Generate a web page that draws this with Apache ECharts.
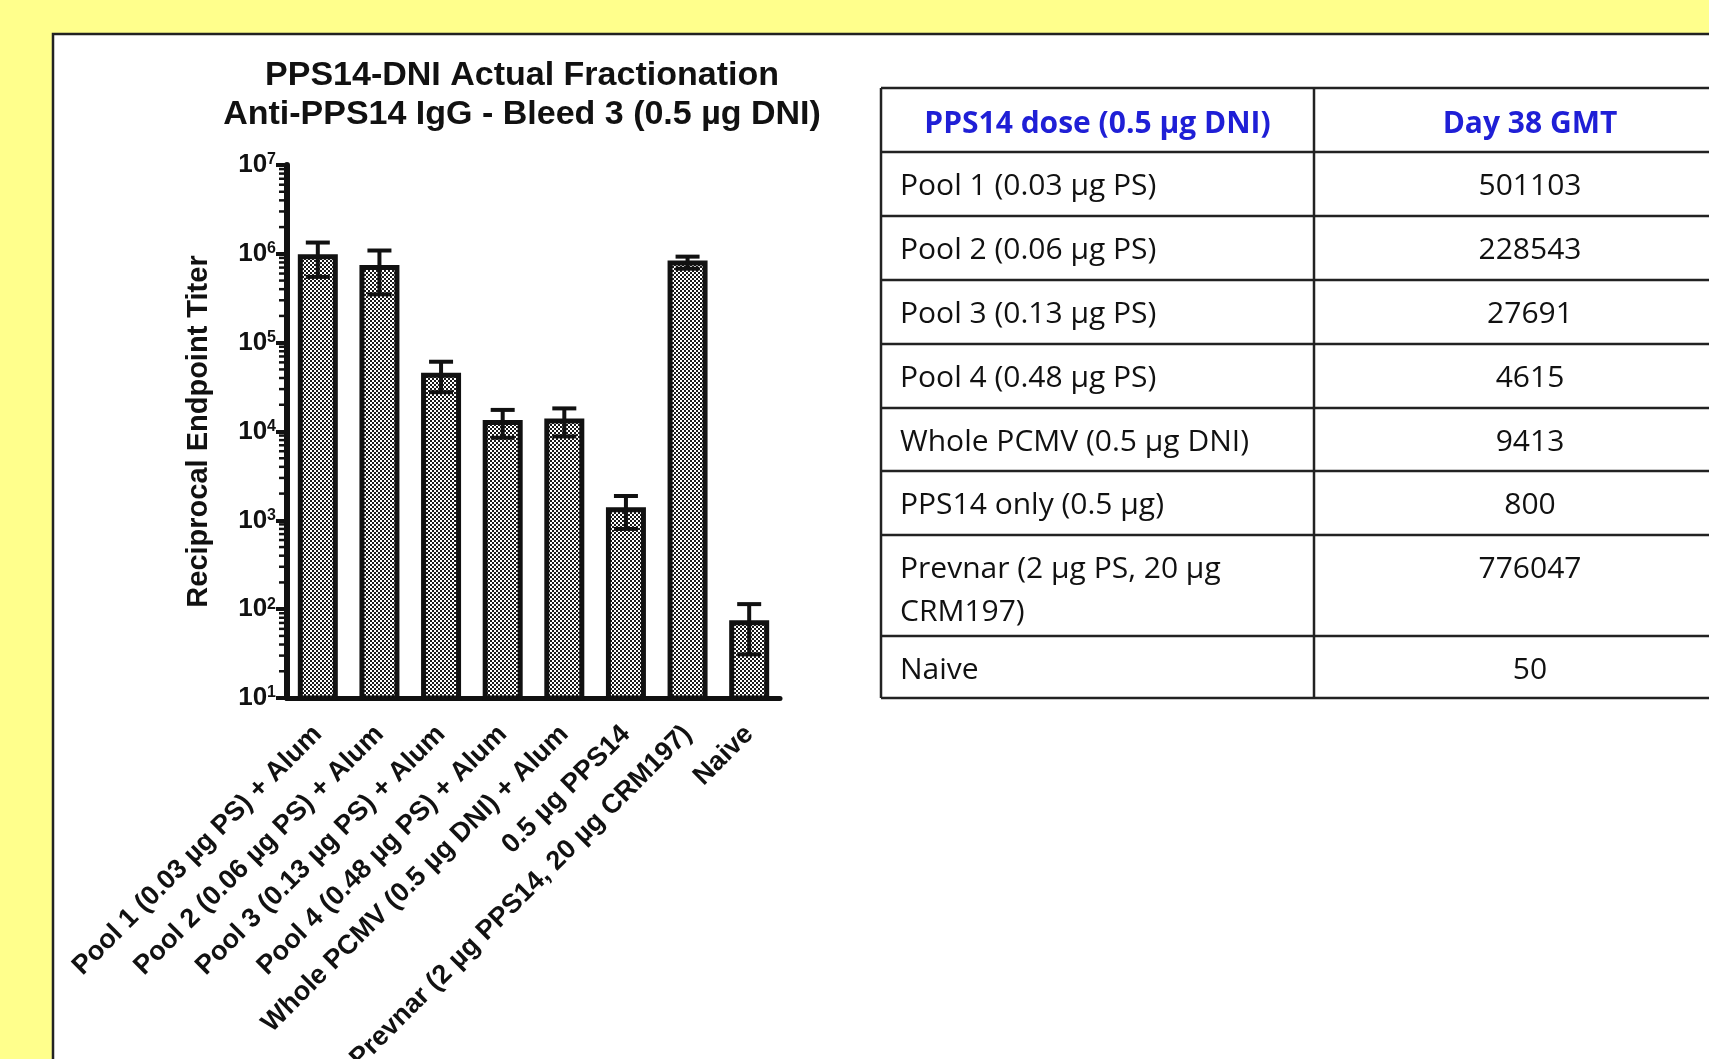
<!DOCTYPE html>
<html>
<head>
<meta charset="utf-8">
<script src="https://cdn.jsdelivr.net/npm/echarts@6/dist/echarts.min.js"></script>
<style>
  html, body { margin: 0; padding: 0; background: #ffff8c; }
  #chart { width: 1709px; height: 1059px; }
</style>
</head>
<body>
<div id="chart"></div>
<script>
// groups on the x axis
const groups = [
  'Pool 1 (0.03 µg PS) + Alum',
  'Pool 2 (0.06 µg PS) + Alum',
  'Pool 3 (0.13 µg PS) + Alum',
  'Pool 4 (0.48 µg PS) + Alum',
  'Whole PCMV (0.5 µg DNI) + Alum',
  '0.5 µg PPS14',
  'Prevnar (2 µg PPS14, 20 µg CRM197)',
  'Naive'
]
// titers
const titers = [990000, 750000, 46000, 13500, 14000, 1400, 840000, 75]
const errLow = [550000, 350000, 27700, 8500, 8800, 800, 680000, 31]
const errHigh = [1340000, 1090000, 61000, 17500, 18200, 1880, 930000, 114]

// log axis minor ticks (2..9 per decade)
const decades = [10, 100, 1000, 10000, 100000, 1000000]
const minorSteps = [2, 3, 4, 5, 6, 7, 8, 9]

// table on the right
const tableHeader = ['PPS14 dose (0.5 µg DNI)', 'Day 38 GMT']
const tableGroups = [
  'Pool 1 (0.03 µg PS)',
  'Pool 2 (0.06 µg PS)',
  'Pool 3 (0.13 µg PS)',
  'Pool 4 (0.48 µg PS)',
  'Whole PCMV (0.5 µg DNI)',
  'PPS14 only (0.5 µg)',
  'Prevnar (2 µg PS, 20 µg\nCRM197)',
  'Naive'
]
const tableGmt = ['501103', '228543', '27691', '4615', '9413', '800', '776047', '50']

const chart = echarts.init(document.getElementById('chart'))

// checker fill like the prism bars
const pat = document.createElement('canvas')
pat.width = 4
pat.height = 4
const pctx = pat.getContext('2d')
pctx.fillStyle = '#1a1a1a'
pctx.fillRect(0, 0, 4, 4)
pctx.fillStyle = '#fff'
pctx.fillRect(0, 0, 2, 2)
pctx.fillRect(2, 2, 2, 2)

const minorTicks = []
decades.forEach(d => minorSteps.forEach(m => minorTicks.push([0, d * m])))

const errData = groups.map((g, i) => [i, errLow[i], errHigh[i]])

// table layout
const tLeft = 881, tMid = 1314, tRight = 1760
const rowHeights = [64, 64, 64, 64, 64, 63, 64, 101, 62]
const rowTops = [88]
rowHeights.forEach(h => rowTops.push(rowTops[rowTops.length - 1] + h))
const tableLine = { stroke: '#222', lineWidth: 2.5 }
const tableFont = '"Open Sans", "Noto Sans", sans-serif'

const tableEls = []
rowTops.forEach(y => {
  tableEls.push({ type: 'line', shape: { x1: tLeft, y1: y, x2: tRight, y2: y }, style: tableLine })
})
;[tLeft, tMid].forEach(x => {
  tableEls.push({ type: 'line', shape: { x1: x, y1: rowTops[0], x2: x, y2: rowTops[rowTops.length - 1] }, style: tableLine })
})
tableEls.push({
  type: 'text', x: (tLeft + tMid) / 2, y: rowTops[0] + 36,
  style: { text: tableHeader[0], fill: '#1f1fd6', font: 'bold 30px ' + tableFont, textAlign: 'center', textVerticalAlign: 'middle' }
})
tableEls.push({
  type: 'text', x: 1530, y: rowTops[0] + 36,
  style: { text: tableHeader[1], fill: '#1f1fd6', font: 'bold 30px ' + tableFont, textAlign: 'center', textVerticalAlign: 'middle' }
})
tableGroups.forEach((name, i) => {
  const y = rowTops[i + 1] + 34 - 21.5
  tableEls.push({
    type: 'text', x: 900, y: y,
    style: { text: name, fill: '#111', font: '30px ' + tableFont, lineHeight: 43, textAlign: 'left', textVerticalAlign: 'top' }
  })
  tableEls.push({
    type: 'text', x: 1530, y: y,
    style: { text: tableGmt[i], fill: '#111', font: '30px ' + tableFont, lineHeight: 43, textAlign: 'center', textVerticalAlign: 'top' }
  })
})

const option = {
  backgroundColor: '#ffff8c',
  animation: false,
  textStyle: { fontFamily: '"Liberation Sans", Arial, sans-serif' },
  title: {
    text: 'PPS14-DNI Actual Fractionation\nAnti-PPS14 IgG - Bleed 3 (0.5 µg DNI)',
    left: 517,
    top: 51,
    textAlign: 'center',
    textStyle: { fontSize: 34, fontWeight: 'bold', lineHeight: 39, color: '#111' }
  },
  graphic: [
    {
      type: 'rect',
      z: -10,
      shape: { x: 53, y: 34, width: 1700, height: 1100 },
      style: { fill: '#fff', stroke: '#222', lineWidth: 2.5 }
    },
    { type: 'group', children: tableEls }
  ],
  grid: { left: 287, top: 165, width: 493, height: 533, containLabel: false, outerBoundsMode: 'none' },
  xAxis: {
    type: 'category',
    data: groups,
    axisLine: { lineStyle: { color: '#111', width: 5 } },
    axisTick: { alignWithLabel: true, length: 12, lineStyle: { color: '#111', width: 5 } },
    axisLabel: {
      rotate: 45,
      interval: 0,
      margin: 32,
      color: '#111',
      fontSize: 27,
      fontWeight: 'bold'
    }
  },
  yAxis: {
    type: 'log',
    logBase: 10,
    min: 10,
    max: 10000000,
    splitNumber: 6,
    name: 'Reciprocal Endpoint Titer',
    nameLocation: 'middle',
    nameGap: 74,
    nameTextStyle: { fontSize: 29, fontWeight: 'bold', color: '#111' },
    axisLine: { show: true, lineStyle: { color: '#111', width: 6 } },
    axisTick: { show: true, length: 11, lineStyle: { color: '#111', width: 4 } },
    splitLine: { show: false },
    axisLabel: {
      margin: 11,
      formatter: (v) => '{b|10}{s|' + Math.round(Math.log10(v)) + '}',
      rich: {
        b: { fontSize: 26, fontWeight: 'bold', color: '#111', fontFamily: '"Liberation Sans", Arial, sans-serif' },
        s: { fontSize: 16, fontWeight: 'bold', color: '#111', verticalAlign: 'top', fontFamily: '"Liberation Sans", Arial, sans-serif' }
      }
    }
  },
  series: [
    {
      type: 'bar',
      data: titers,
      barWidth: 40,
      itemStyle: {
        color: { image: pat, repeat: 'repeat' },
        borderColor: '#111',
        borderWidth: 5
      },
      z: 2
    },
    {
      type: 'custom',
      data: errData,
      z: 3,
      renderItem: (params, api) => {
        const hi = api.coord([api.value(0), api.value(2)])
        const lo = api.coord([api.value(0), api.value(1)])
        const st = { stroke: '#111', lineWidth: 4 }
        return {
          type: 'group',
          children: [
            { type: 'line', shape: { x1: hi[0], y1: hi[1], x2: lo[0], y2: lo[1] }, style: st },
            { type: 'line', shape: { x1: hi[0] - 12, y1: hi[1], x2: hi[0] + 12, y2: hi[1] }, style: st },
            { type: 'line', shape: { x1: lo[0] - 12, y1: lo[1], x2: lo[0] + 12, y2: lo[1] }, style: st }
          ]
        }
      }
    },
    {
      type: 'custom',
      data: minorTicks,
      z: 3,
      silent: true,
      renderItem: (params, api) => {
        const p = api.coord([0, api.value(1)])
        const x0 = params.coordSys.x
        return {
          type: 'line',
          shape: { x1: x0 - 8, y1: p[1], x2: x0, y2: p[1] },
          style: { stroke: '#111', lineWidth: 2.5 }
        }
      }
    }
  ]
}

chart.setOption(option)
</script>
</body>
</html>
